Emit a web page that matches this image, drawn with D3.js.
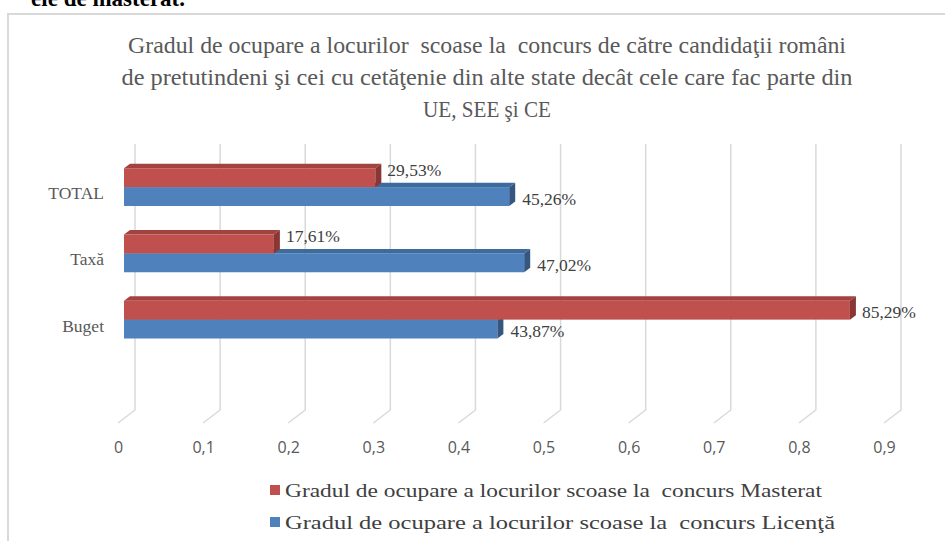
<!DOCTYPE html>
<html>
<head>
<meta charset="utf-8">
<script src="https://cdn.jsdelivr.net/npm/d3@7"></script>
<style>
  html, body { margin: 0; padding: 0; background: #fff; }
  svg { display: block; }
</style>
</head>
<body>
<svg id="chart" width="945" height="541"></svg>
<script>
// ---------- DATA ----------
const categories = ["TOTAL", "Taxă", "Buget"];
const masteratValues = [0.2953, 0.1761, 0.8529];
const licentaValues = [0.4526, 0.4702, 0.4387];
const valueLabelsMasterat = ["29,53%", "17,61%", "85,29%"];
const valueLabelsLicenta = ["45,26%", "47,02%", "43,87%"];
const tickValues = [0, 0.1, 0.2, 0.3, 0.4, 0.5, 0.6, 0.7, 0.8, 0.9];
const tickLabels = ["0", "0,1", "0,2", "0,3", "0,4", "0,5", "0,6", "0,7", "0,8", "0,9"];
const seriesNames = [
  "Gradul de ocupare a locurilor scoase la\u00a0 concurs Masterat",
  "Gradul de ocupare a locurilor scoase la\u00a0 concurs Licen\u0163\u0103"
];
const titleLines = [
  "Gradul de ocupare a locurilor\u00a0 scoase la\u00a0 concurs de c\u0103tre candida\u0163ii rom\u00e2ni",
  "de pretutindeni \u015fi cei cu cet\u0103\u0163enie din alte state dec\u00e2t cele care fac parte din",
  "UE, SEE \u015fi CE"
];

// ---------- SETUP ----------
const svg = d3.select("#chart");
const serif = "'Liberation Serif', 'Times New Roman', serif";
const sans = "'Open Sans', 'Liberation Sans', sans-serif";

const colors = {
  m: { front: "#C0504D", top: "#A3433F", side: "#8A3634" },
  l: { front: "#4F81BD", top: "#3F6A9C", side: "#34567F" }
};

// text above the chart frame (cropped by the page edge, as in the reference)
svg.append("text")
  .attr("x", 185).attr("y", 6)
  .attr("text-anchor", "end")
  .attr("font-family", serif).attr("font-weight", "bold")
  .attr("font-size", 23).attr("fill", "#000")
  .text("ele de masterat.");

// chart frame
svg.append("rect")
  .attr("x", 8).attr("y", 14)
  .attr("width", 960).attr("height", 560)
  .attr("fill", "#fff")
  .attr("stroke", "#d9d9d9").attr("stroke-width", 2);

// title
const titleWidths = [718, 731, 128];
svg.append("g").selectAll("text")
  .data(titleLines).join("text")
  .attr("x", 487)
  .attr("y", (d, i) => 53 + i * 32)
  .attr("text-anchor", "middle")
  .attr("font-family", serif).attr("font-size", 24)
  .attr("fill", "#595959")
  .attr("textLength", (d, i) => titleWidths[i])
  .attr("lengthAdjust", "spacingAndGlyphs")
  .text(d => d);

// scales
const x = d3.scaleLinear().domain([0, 0.9]).range([124, 890]);   // bar front plane
const backOff = 11, labelOff = -5.5;
const y = d3.scaleBand().domain([...categories, ""]).range([154, 419])
  .paddingInner(0.43).paddingOuter(0.215);
const sub = d3.scaleBand().domain(["m", "l"]).range([0, y.bandwidth()]);
const dx = 6, dy = -4.5;

// grid lines (back wall + floor diagonal)
const gridTop = 144, gridBottom = 410, floorDx = -17, floorDy = 13;
const grid = svg.append("g").attr("stroke", "#d9d9d9").attr("stroke-width", 1.5).attr("fill", "none");
grid.selectAll("path").data(tickValues).join("path")
  .attr("d", v => {
    const bx = x(v) + backOff;
    return `M${bx},${gridTop}L${bx},${gridBottom}L${bx + floorDx},${gridBottom + floorDy}`;
  });

// x tick labels
svg.append("g").selectAll("text")
  .data(tickValues).join("text")
  .attr("x", v => x(v) + labelOff)
  .attr("y", 453)
  .attr("text-anchor", "middle")
  .attr("font-family", sans).attr("font-size", 16)
  .attr("fill", "#595959")
  .text((v, i) => tickLabels[i]);

// category labels
svg.append("g").selectAll("text")
  .data(categories).join("text")
  .attr("x", 104)
  .attr("y", c => y(c) + y.bandwidth() / 2 + 12)
  .attr("text-anchor", "end")
  .attr("font-family", serif).attr("font-size", 17.5)
  .attr("fill", "#595959")
  .text(c => c);

// bars
function drawBar(g, v, yTop, h, col) {
  const x0 = x(0), x1 = x(v);
  g.append("polygon")
    .attr("points", [[x0, yTop], [x0 + dx, yTop + dy], [x1 + dx, yTop + dy], [x1, yTop]].join(" "))
    .attr("fill", col.top);
  g.append("rect")
    .attr("x", x0).attr("y", yTop)
    .attr("width", x1 - x0).attr("height", h)
    .attr("fill", col.front);
  g.append("polygon")
    .attr("points", [[x1, yTop], [x1 + dx, yTop + dy], [x1 + dx, yTop + h + dy], [x1, yTop + h]].join(" "))
    .attr("fill", col.side);
}

const barsG = svg.append("g");
categories.forEach((c, i) => {
  const g = barsG.append("g");
  const h = sub.bandwidth();
  drawBar(g, licentaValues[i], y(c) + sub("l"), h, colors.l);
  drawBar(g, masteratValues[i], y(c) + sub("m"), h, colors.m);
});

// value labels
const labelsG = svg.append("g")
  .attr("font-family", serif).attr("font-size", 17.5).attr("fill", "#404040");
categories.forEach((c, i) => {
  const h = sub.bandwidth();
  const mShift = masteratValues[i] < licentaValues[i] ? -8 : 1.5;
  labelsG.append("text")
    .attr("x", x(masteratValues[i]) + 12)
    .attr("y", y(c) + sub("m") + h / 2 + mShift)
    .attr("dy", "0.35em")
    .text(valueLabelsMasterat[i]);
  labelsG.append("text")
    .attr("x", x(licentaValues[i]) + 13)
    .attr("y", y(c) + sub("l") + h / 2 + 2)
    .attr("dy", "0.35em")
    .text(valueLabelsLicenta[i]);
});

// legend
const legend = svg.append("g");
const legendItems = [
  { name: seriesNames[0], color: colors.m.front, width: 537 },
  { name: seriesNames[1], color: colors.l.front, width: 550 }
];
legendItems.forEach((d, i) => {
  const ly = 490 + i * 32;
  legend.append("rect")
    .attr("x", 270).attr("y", ly - 5)
    .attr("width", 10).attr("height", 10)
    .attr("fill", d.color);
  legend.append("text")
    .attr("x", 285).attr("y", ly)
    .attr("dy", "0.35em")
    .attr("font-family", serif).attr("font-size", 19)
    .attr("fill", "#404040")
    .attr("textLength", d.width)
    .attr("lengthAdjust", "spacingAndGlyphs")
    .text(d.name);
});
</script>
</body>
</html>
